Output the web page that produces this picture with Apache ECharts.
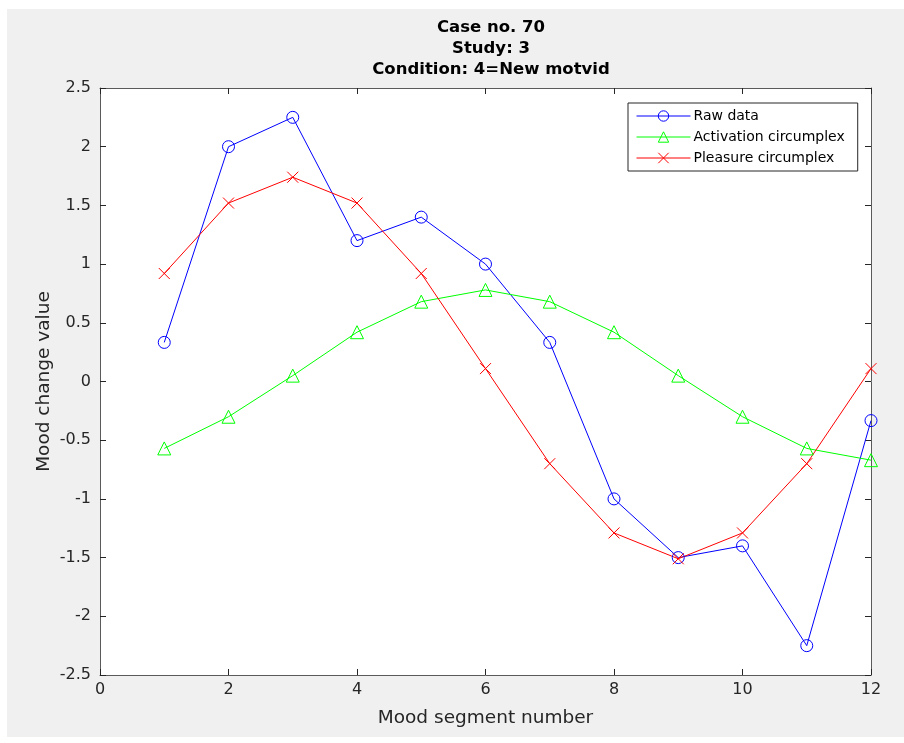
<!DOCTYPE html>
<html>
<head>
<meta charset="utf-8">
<script src="https://cdn.jsdelivr.net/npm/echarts@6/dist/echarts.min.js"></script>
<style>
  html, body { margin: 0; padding: 0; background: #ffffff; }
  #wrap { position: relative; width: 904px; height: 743px; background: #ffffff; }
  #bg { position: absolute; left: 7px; top: 9px; right: 0; bottom: 6px; background: #f0f0f0; }
  #chart { position: absolute; left: 0; top: 0; width: 904px; height: 743px; }
</style>
</head>
<body>
<div id="wrap"><div id="bg"></div><div id="chart"></div></div>
<script>
const titleLines = ['Case no. 70', 'Study: 3', 'Condition: 4=New motvid'];
const xLabel = 'Mood segment number';
const yLabel = 'Mood change value';
const segments = [1, 2, 3, 4, 5, 6, 7, 8, 9, 10, 11, 12];
const rawData = [0.333, 2.0, 2.25, 1.2, 1.4, 1.0, 0.333, -1.0, -1.5, -1.4, -2.25, -0.333];
const activation = [-0.57, -0.30, 0.05, 0.42, 0.68, 0.78, 0.68, 0.42, 0.05, -0.30, -0.57, -0.67];
const pleasure = [0.92, 1.52, 1.74, 1.52, 0.92, 0.11, -0.70, -1.29, -1.51, -1.29, -0.70, 0.11];
const seriesNames = ['Raw data', 'Activation circumplex', 'Pleasure circumplex'];

const FONT = '"DejaVu Sans", "Liberation Sans", Arial, sans-serif';
const AX = '#262626';
const BOX = '#5a5a5a';

function pairs(vals) { return segments.map((x, i) => [x, vals[i]]); }

const chart = echarts.init(document.getElementById('chart'), null, { renderer: 'canvas' });

const axisCommon = {
  axisLine: { show: true, onZero: false, lineStyle: { color: BOX, width: 1 } },
  axisTick: { show: true, inside: true, length: 6, lineStyle: { color: AX, width: 1 } },
  splitLine: { show: false }
};

chart.setOption({
  animation: false,
  backgroundColor: 'transparent',
  title: {
    text: titleLines.join('\n'),
    left: 486,
    top: 12,
    textAlign: 'center',
    textStyle: { fontFamily: FONT, fontSize: 16.5, fontWeight: 'bold', color: '#000', lineHeight: 21 }
  },
  grid: { show: true, backgroundColor: '#ffffff', borderWidth: 0, left: 100, top: 88, width: 771, height: 587, containLabel: false },
  legend: {
    orient: 'vertical',
    left: 628,
    top: 103,
    padding: [6, 13, 6, 8],
    itemWidth: 54,
    itemHeight: 13,
    itemGap: 7,
    backgroundColor: '#ffffff',
    borderColor: AX,
    borderWidth: 1,
    borderRadius: 0,
    itemStyle: { color: 'rgba(0,0,0,0)', borderWidth: 1 },
    lineStyle: { width: 1 },
    textStyle: { fontFamily: FONT, fontSize: 14, color: '#000', padding: [0, 0, 0, -2] },
    data: seriesNames
  },
  xAxis: [
    Object.assign({
      type: 'value', position: 'bottom', min: 0, max: 12, interval: 2,
      name: xLabel, nameLocation: 'middle', nameGap: 34, nameMoveOverlap: false,
      nameTextStyle: { fontFamily: FONT, fontSize: 18.5, color: AX },
      axisLabel: { fontFamily: FONT, fontSize: 16, color: AX, margin: 7 }
    }, axisCommon),
    Object.assign({
      type: 'value', position: 'top', min: 0, max: 12, interval: 2,
      axisLabel: { show: false }
    }, axisCommon)
  ],
  yAxis: [
    Object.assign({
      type: 'value', position: 'left', min: -2.5, max: 2.5, interval: 0.5,
      name: yLabel, nameLocation: 'middle', nameGap: 46, nameRotate: 90, nameMoveOverlap: false,
      nameTextStyle: { fontFamily: FONT, fontSize: 18.5, color: AX },
      axisLabel: { fontFamily: FONT, fontSize: 16, color: AX, margin: 9 }
    }, axisCommon),
    Object.assign({
      type: 'value', position: 'right', min: -2.5, max: 2.5, interval: 0.5,
      axisLabel: { show: false }
    }, axisCommon)
  ],
  series: [
    {
      name: seriesNames[0], type: 'line', xAxisIndex: 0, yAxisIndex: 0,
      data: pairs(rawData),
      symbol: 'circle', symbolSize: 12, showAllSymbol: true,
      lineStyle: { color: '#0000ff', width: 1 },
      itemStyle: { color: 'rgba(0,0,0,0)', borderColor: '#0000ff', borderWidth: 1 },
      emphasis: { disabled: true }
    },
    {
      name: seriesNames[1], type: 'line', xAxisIndex: 0, yAxisIndex: 0,
      data: pairs(activation),
      symbol: 'triangle', symbolSize: 13, showAllSymbol: true,
      lineStyle: { color: '#00ff00', width: 1 },
      itemStyle: { color: 'rgba(0,0,0,0)', borderColor: '#00ff00', borderWidth: 1 },
      emphasis: { disabled: true }
    },
    {
      name: seriesNames[2], type: 'line', xAxisIndex: 0, yAxisIndex: 0,
      data: pairs(pleasure),
      symbol: 'path://M0,0L10,10M10,0L0,10', symbolSize: 11, showAllSymbol: true,
      lineStyle: { color: '#ff0000', width: 1 },
      itemStyle: { color: 'rgba(0,0,0,0)', borderColor: '#ff0000', borderWidth: 1 },
      emphasis: { disabled: true }
    }
  ]
});
</script>
</body>
</html>
